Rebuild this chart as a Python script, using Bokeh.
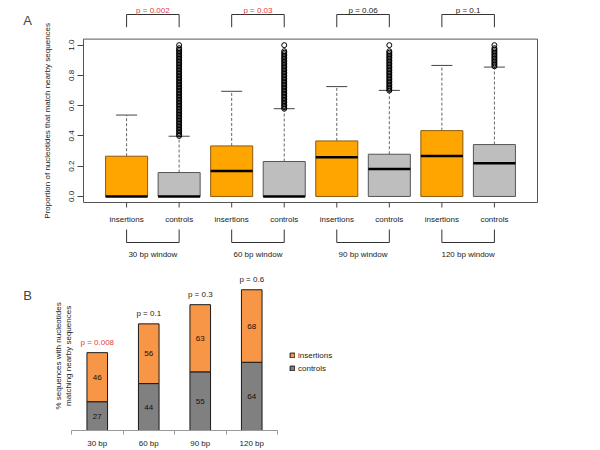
import math
from bokeh.plotting import figure
from bokeh.models import Range1d, FixedTicker, PrintfTickFormatter, Label, Legend, LegendItem, ColumnDataSource
from bokeh.embed import file_html
from bokeh.resources import INLINE
from bokeh.core.properties import value

FONT = "Liberation Sans"
RED = "#E03A3A"
INK = "#222222"

# ---------------- Panel A data ----------------
groups = ["insertions", "controls", "insertions", "controls",
          "insertions", "controls", "insertions", "controls"]
windows = ["30 bp window", "60 bp window", "90 bp window", "120 bp window"]
a_pvalues = ["p = 0.002", "p = 0.03", "p = 0.06", "p = 0.1"]
a_pcolors = [RED, RED, INK, INK]
a_ylabel = "Proportion of nucleotides that match nearby sequences"
a_yticks = [0, 0.2, 0.4, 0.6, 0.8, 1.0]
box_lower = [0, 0, 0, 0, 0, 0, 0, 0]
box_q1 = [0, 0, 0, 0, 0, 0, 0, 0]
box_median = [0.0, 0.0, 0.169, 0.0, 0.259, 0.182, 0.268, 0.220]
box_q3 = [0.266, 0.158, 0.334, 0.231, 0.367, 0.279, 0.435, 0.343]
box_upper = [0.538, 0.398, 0.695, 0.580, 0.726, 0.701, 0.866, 0.855]
out_30 = [0.40, 0.41, 0.42, 0.43, 0.44, 0.45, 0.46, 0.47, 0.48, 0.49,
          0.50, 0.51, 0.52, 0.53, 0.54, 0.55, 0.56, 0.57, 0.58, 0.59,
          0.60, 0.61, 0.62, 0.63, 0.64, 0.65, 0.66, 0.67, 0.68, 0.69,
          0.70, 0.71, 0.72, 0.73, 0.74, 0.75, 0.76, 0.77, 0.78, 0.79,
          0.80, 0.81, 0.82, 0.83, 0.84, 0.85, 0.86, 0.87, 0.88, 0.89,
          0.90, 0.91, 0.92, 0.93, 0.94, 0.95, 0.96, 0.97, 0.98, 1.00]
out_60 = [0.58, 0.59,
          0.60, 0.61, 0.62, 0.63, 0.64, 0.65, 0.66, 0.67, 0.68, 0.69,
          0.70, 0.71, 0.72, 0.73, 0.74, 0.75, 0.76, 0.77, 0.78, 0.79,
          0.80, 0.81, 0.82, 0.83, 0.84, 0.85, 0.86, 0.87, 0.88, 0.89,
          0.90, 0.91, 0.92, 0.93, 0.94, 0.95, 0.96, 1.00]
out_90 = [0.70, 0.71, 0.72, 0.73, 0.74, 0.75, 0.76, 0.77, 0.78, 0.79,
          0.80, 0.81, 0.82, 0.83, 0.84, 0.85, 0.86, 0.87, 0.88, 0.89,
          0.90, 0.91, 0.92, 0.93, 0.94, 0.95, 0.96, 1.00]
out_120 = [0.86, 0.87, 0.88, 0.89, 0.90, 0.91, 0.92, 0.93, 0.94, 0.95,
           0.96, 0.97, 0.98, 1.00]
outliers = [[], out_30, [], out_60, [], out_90, [], out_120]

# ---------------- Panel B data ----------------
categories = ["30 bp", "60 bp", "90 bp", "120 bp"]
controls_pct = [27, 44, 55, 64]
insertions_pct = [46, 56, 63, 68]
b_pvalues = ["p = 0.008", "p = 0.1", "p = 0.3", "p = 0.6"]
b_pcolors = [RED, INK, INK, INK]
b_ylabel = ["% sequences with nucleotides", "matching nearby sequences"]

# ---------------- geometry (pixels) ----------------
W = 600
A_H = 262
BOX_L, BOX_R, BOX_T, BOX_B = 83, 537, 38.6, 202
x_lo, x_hi = 0.18, 8.82          # R default: 0.5..8.5 padded 4 %
y_lo, y_hi = -0.04, 1.04         # R default: 0..1 padded 4 %
ppx = (BOX_R - BOX_L) / (x_hi - x_lo)
ppy = (BOX_B - BOX_T) / (y_hi - y_lo)
A_BORDER_L = 22


def ya(page_y):          # page pixel row -> panel-A data y
    return y_lo + (BOX_B - page_y) / ppy


def xa(page_x):          # page pixel column -> panel-A data x
    return x_lo + (page_x - BOX_L) / ppx


def txt(p, **kw):
    base = dict(text_font_size="8px", text_align="center", text_font=value(FONT), text_color=INK)
    base.update(kw)
    return p.text(**base)


# ================= Panel A (box plots) =================
pa = figure(width=W, height=A_H, x_range=Range1d(xa(A_BORDER_L), xa(W)),
            y_range=Range1d(ya(A_H), ya(0)), x_axis_location=None,
            min_border_left=A_BORDER_L, min_border_right=0, min_border_top=0, min_border_bottom=0,
            toolbar_location=None, output_backend="svg", outline_line_color=None)
pa.xgrid.grid_line_color = None
pa.ygrid.grid_line_color = None

xs = [i + 1 for i in range(len(groups))]
fills = ["#FFA500" if g == "insertions" else "#BEBEBE" for g in groups]
lines = ["#8B5A10" if g == "insertions" else "#555555" for g in groups]
src = ColumnDataSource(dict(x=xs, lo=box_lower, q1=box_q1, med=box_median, q3=box_q3, up=box_upper,
                            l=[x - 0.4 for x in xs], r=[x + 0.4 for x in xs],
                            cl=[x - 0.2 for x in xs], cr=[x + 0.2 for x in xs],
                            fill=fills, line=lines))
# plot box
pa.quad(left=[x_lo], right=[x_hi], bottom=[y_lo], top=[y_hi], fill_color=None,
        line_color="#555555", line_width=1)
pa.segment(x0="x", y0="q3", x1="x", y1="up", source=src, line_color="#666666", line_dash="3 2", line_width=1)
pa.quad(left="l", right="r", bottom="q1", top="q3", source=src, fill_color="fill", line_color="line", line_width=1)
pa.segment(x0="l", y0="med", x1="r", y1="med", source=src, line_color="black", line_width=2.5)
pa.segment(x0="cl", y0="up", x1="cr", y1="up", source=src, line_color="#444444", line_width=1)
ox, oy = [], []
for i, vals in enumerate(outliers):
    ox += [xs[i]] * len(vals)
    oy += vals
pa.scatter(x=ox, y=oy, marker="circle", size=5, fill_color=None, line_color="black", line_width=1)

# x axis in R style: ticks below the box, group names
pa.segment(x0=xs, y0=[y_lo] * len(xs), x1=xs, y1=[ya(207)] * len(xs), line_color="#444444", line_width=1)
txt(pa, x=xs, y=[ya(218.7)] * len(xs), text=groups, text_baseline="middle")

# significance brackets above, window brackets below
pairs = [[2 * k + 1, 2 * k + 1, 2 * k + 2, 2 * k + 2] for k in range(len(windows))]
mids = [2 * k + 1.5 for k in range(len(windows))]
pa.multi_line(xs=pairs, ys=[[ya(26.7), ya(14), ya(14), ya(26.7)]] * len(windows),
              line_color="#333333", line_width=1)
txt(pa, x=mids, y=[ya(9.5)] * len(windows), text=a_pvalues, text_color=a_pcolors,
    text_baseline="alphabetic")
pa.multi_line(xs=pairs, ys=[[ya(229), ya(242), ya(242), ya(229)]] * len(windows),
              line_color="#333333", line_width=1)
txt(pa, x=mids, y=[ya(253.5)] * len(windows), text=windows, text_baseline="alphabetic")

# y-axis title (R centres it on the plot box)
txt(pa, x=[xa(46.5)], y=[(y_lo + y_hi) / 2], text=[a_ylabel], angle=math.pi / 2,
    text_baseline="middle")
pa.add_layout(Label(x=xa(27), y=ya(20), text="A", text_font_size="13px",
                    text_align="center", text_baseline="middle", text_font=FONT))

pa.yaxis.fixed_location = x_lo
pa.yaxis.ticker = FixedTicker(ticks=a_yticks)
pa.yaxis.formatter = PrintfTickFormatter(format="%.1f")
pa.yaxis.major_label_orientation = "vertical"
pa.yaxis.axis_line_color = None
pa.yaxis.major_tick_out = 6
pa.yaxis.major_tick_in = 0
pa.yaxis.minor_tick_line_color = None
pa.yaxis.major_tick_line_color = "#444444"
pa.yaxis.major_label_standoff = 3
pa.yaxis.major_label_text_font_size = "8px"
pa.yaxis.major_label_text_font = FONT
pa.yaxis.major_label_text_color = INK

# ================= Panel B (stacked bars) =================
B_L, B_R, B_AXIS = 71, 277, 433
bw = (B_R - B_L) / len(categories)          # pixels per category
B_TOP = 268
b_ppu = 1.086                                 # pixels per percentage point
pb = figure(width=W, height=188, x_range=Range1d(-B_L / bw, (W - B_L) / bw),
            y_range=Range1d(0, (B_AXIS - B_TOP) / b_ppu),
            y_axis_location=None,
            min_border_left=0, min_border_right=0, min_border_top=6, min_border_bottom=17,
            toolbar_location=None, output_backend="svg", outline_line_color=None)
pb.xgrid.grid_line_color = None
pb.ygrid.grid_line_color = None
bx = [i + 0.5 for i in range(len(categories))]
tops = [c + n for c, n in zip(controls_pct, insertions_pct)]
r_ctl = pb.vbar(x=bx, width=0.4, bottom=0, top=controls_pct, fill_color="#808080",
                line_color="#1a1a1a", line_width=1)
r_ins = pb.vbar(x=bx, width=0.4, bottom=controls_pct, top=tops, fill_color="#F79646",
                line_color="#1a1a1a", line_width=1)
txt(pb, x=bx, y=[c / 2 for c in controls_pct], text=[str(v) for v in controls_pct],
    text_baseline="middle", text_color="#111111")
txt(pb, x=bx, y=[c + n / 2 for c, n in zip(controls_pct, insertions_pct)],
    text=[str(v) for v in insertions_pct], text_baseline="middle", text_color="#111111")
txt(pb, x=bx, y=tops, y_offset=-10, text=b_pvalues, text_color=b_pcolors, text_baseline="middle")
# y title (two lines, rotated)
ylab_y = (B_AXIS - 357) / b_ppu
txt(pb, x=[(57.5 - B_L) / bw, (67.5 - B_L) / bw], y=[ylab_y, ylab_y], text=b_ylabel,
    angle=math.pi / 2, text_baseline="middle")
pb.add_layout(Label(x=(27 - B_L) / bw, y=(B_AXIS - 295) / b_ppu, text="B", text_font_size="13px",
                    text_align="center", text_baseline="middle", text_font=FONT))

pb.xaxis.bounds = (0, len(categories))
pb.xaxis.ticker = FixedTicker(ticks=bx, minor_ticks=[0, 1, 2, 3, 4])
pb.xaxis.major_label_overrides = {bx[i]: categories[i] for i in range(len(categories))}
pb.xaxis.major_tick_out = 0
pb.xaxis.major_tick_in = 0
pb.xaxis.major_tick_line_color = None
pb.xaxis.minor_tick_out = 4
pb.xaxis.minor_tick_in = 0
pb.xaxis.minor_tick_line_color = "#999999"
pb.xaxis.axis_line_color = "#999999"
pb.xaxis.major_label_standoff = 4
pb.xaxis.major_label_text_font_size = "8px"
pb.xaxis.major_label_text_font = FONT
pb.xaxis.major_label_text_color = INK

legend = Legend(items=[LegendItem(label="insertions", renderers=[r_ins]),
                       LegendItem(label="controls", renderers=[r_ctl])],
                location=(289, 57.5), glyph_width=6, glyph_height=6, label_height=8,
                label_standoff=3, spacing=4, padding=0, margin=0,
                label_text_font_size="8px", label_text_font=FONT, label_text_color=INK,
                border_line_color=None, background_fill_alpha=0)
pb.add_layout(legend)

open("out.html", "w").write(file_html([pa, pb], INLINE))
